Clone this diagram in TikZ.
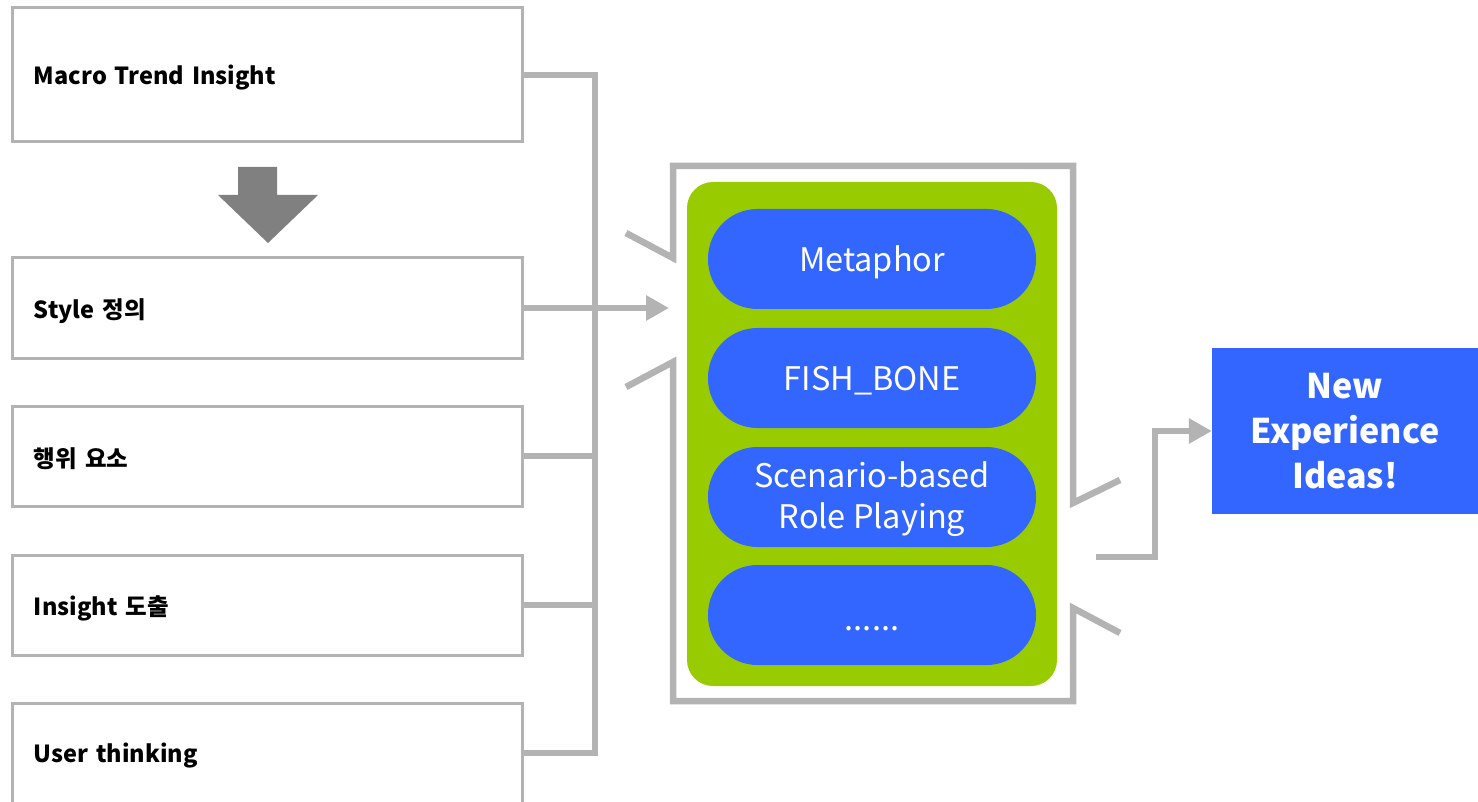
\documentclass[tikz,border=0pt]{standalone}
\usepackage{fontspec}
\setmainfont{Noto Sans CJK KR}
\usetikzlibrary{arrows.meta}
\definecolor{lgray}{HTML}{B3B3B3}
\definecolor{dgray}{HTML}{808080}
\definecolor{pgreen}{HTML}{99CC00}
\definecolor{pblue}{HTML}{3366FF}
\newcommand{\lowr}[2][-3pt]{\raisebox{#1}[\height][\depth]{#2}}
\newcommand{\stk}[1]{\raisebox{-3pt}[\height][\depth]{\begin{tabular}{@{}c@{}}#1\end{tabular}}}
\tikzset{
  leftbox/.style={draw=lgray, line width=3pt, fill=white, minimum width=510pt, minimum height=100pt,
     text width=466pt, align=left, inner xsep=0pt, font=\fontsize{23.5}{28}\selectfont\bfseries},
  conn/.style={draw=lgray, line width=6.5pt},
  arr/.style={conn, -{Triangle[length=23pt,width=24pt]}},
  pill/.style={fill=pblue, rounded corners=49.5pt, minimum width=328pt, minimum height=100pt,
     text=white, font=\fontsize{32.5}{41}\selectfont},
}
\begin{document}
\begin{tikzpicture}[x=1pt,y=-1pt]
\clip (0,0) rectangle (1478,802);
\fill[white] (0,0) rectangle (1478,802);
% left boxes
\node[leftbox, minimum height=134pt] (b1) at (267,75) {\lowr{Macro Trend Insight}};
\node[leftbox] (b2) at (267,308) {\lowr{Style 정의}};
\node[leftbox] (b3) at (267,456) {\lowr{행위 요소}};
\node[leftbox] (b4) at (267,605) {\lowr{Insight 도출}};
\node[leftbox] (b5) at (267,753) {\lowr{User thinking}};
% down arrow
\fill[dgray] (238,167) -- (277,167) -- (277,195) -- (318,195) -- (268,243) -- (218,195) -- (238,195) -- cycle;
% collector
\coordinate (jt) at (595,75);
\coordinate (jb) at (595,753);
\coordinate (in) at (669,308);
\draw[conn] (b1.east) -- (jt) -- (jb) -- (b5.east);
\draw[conn] (b3.east) -- (b3.east -| jt);
\draw[conn] (b4.east) -- (b4.east -| jt);
\draw[arr] (b2.east) -- (in);
% bracket frame
\draw[conn, line join=miter] (626,233) -- (673,258) -- (673,166) -- (1073,166) -- (1073,503) -- (1120,480);
\draw[conn, line join=miter] (626,387) -- (673,362) -- (673,701) -- (1073,701) -- (1073,608) -- (1120,633);
% green panel
\node[fill=pgreen, rounded corners=26pt, minimum width=370pt, minimum height=504pt] (panel) at (872,434) {};
\node[pill] (p1) at (872,259) {\lowr{Metaphor}};
\node[pill] (p2) at (872,378) {\lowr{FISH\_BONE}};
\node[pill] (p3) at (872,497) {\stk{Scenario-based\\Role Playing}};
\node[pill] (p4) at (872,615) {\lowr[-14pt]{......}};
% output
\node[fill=pblue, minimum width=266pt, minimum height=166pt, text=white,
  font=\fontsize{34}{45}\selectfont\bfseries] (out) at (1345,431) {\stk{New\\Experience\\Ideas!}};
\coordinate (os) at (1096,557);
\draw[arr] (os) -- (1155,557) |- (out.west);
\end{tikzpicture}
\end{document}
